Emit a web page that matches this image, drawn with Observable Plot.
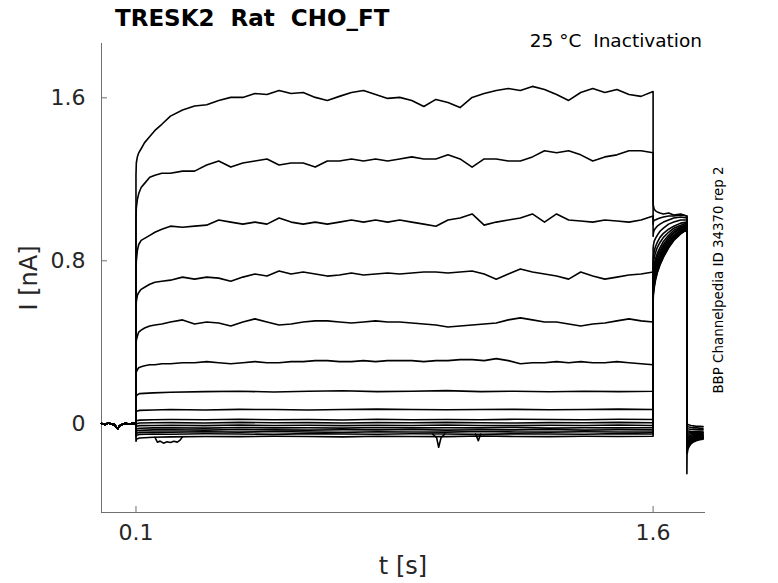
<!DOCTYPE html>
<html>
<head>
<meta charset="utf-8">
<script src="https://cdn.jsdelivr.net/npm/d3@7"></script>
<script src="https://cdn.jsdelivr.net/npm/@observablehq/plot@0.6"></script>
<style>
  html, body { margin: 0; padding: 0; background: #fff; }
  #chart { width: 778px; height: 583px; }
</style>
</head>
<body>
<div id="chart"></div>
<script>
// ---- Time grids (s) ----
const tPre = [0, 0.01, 0.02, 0.03, 0.038, 0.043, 0.047, 0.052, 0.06, 0.07, 0.08, 0.09, 0.1];
const tFine = [0.1, 0.101, 0.104, 0.108, 0.115, 0.125, 0.14, 0.155, 0.175,
  0.2, 0.235, 0.27, 0.305, 0.34, 0.375, 0.41, 0.445, 0.48, 0.515, 0.55, 0.585, 0.62, 0.655, 0.69,
  0.725, 0.76, 0.795, 0.83, 0.865, 0.9, 0.935, 0.97, 1.005, 1.04, 1.075, 1.11, 1.145, 1.18, 1.215,
  1.25, 1.285, 1.32, 1.355, 1.39, 1.425, 1.46, 1.495, 1.53, 1.565, 1.6];
const tCoarse = [0.1, 0.102, 0.11, 0.15, 0.2, 0.3, 0.4, 0.5, 0.6, 0.7, 0.8, 0.9, 1.0, 1.1, 1.2, 1.3, 1.4, 1.5, 1.6];
const tTail = [1.6, 1.6008, 1.603, 1.607, 1.612, 1.62, 1.63, 1.645, 1.66, 1.68, 1.698];
const tPost = [1.698, 1.6985, 1.701, 1.705, 1.71, 1.717, 1.725, 1.735, 1.745];

// ---- Baseline before the step (nA) ----
const basePre = [0.002, -0.003, 0.004, -0.002, -0.004, -0.018, -0.024, -0.01, -0.003, 0.003, -0.002, 0.002, 0.0];

// ---- Step currents (nA), large traces on the fine grid ----
const pulse1 = [1.22, 1.28, 1.31, 1.33, 1.35, 1.38, 1.41, 1.44, 1.47,
  1.51, 1.54, 1.56, 1.566, 1.587, 1.602, 1.602, 1.621, 1.616, 1.636, 1.621, 1.626, 1.602, 1.587, 1.607,
  1.626, 1.636, 1.616, 1.597, 1.602, 1.587, 1.557, 1.592, 1.577, 1.552, 1.602, 1.621, 1.636, 1.646, 1.636,
  1.656, 1.641, 1.616, 1.587, 1.626, 1.646, 1.626, 1.641, 1.616, 1.607, 1.631];
const pulse2 = [1.00, 1.06, 1.10, 1.13, 1.16, 1.18, 1.21, 1.22, 1.23,
  1.23, 1.24, 1.24, 1.27, 1.29, 1.26, 1.28, 1.29, 1.30, 1.27, 1.28, 1.28, 1.26, 1.29, 1.29,
  1.30, 1.29, 1.30, 1.29, 1.30, 1.31, 1.30, 1.30, 1.32, 1.30, 1.26, 1.30, 1.30, 1.29, 1.29,
  1.31, 1.34, 1.33, 1.34, 1.32, 1.29, 1.31, 1.32, 1.34, 1.34, 1.33];
const pulse3 = [0.74, 0.80, 0.85, 0.88, 0.90, 0.91, 0.925, 0.94, 0.955,
  0.97, 0.965, 0.97, 0.975, 1.00, 0.99, 0.98, 0.99, 0.98, 1.01, 0.99, 0.98, 0.99, 0.98, 0.99,
  1.00, 0.99, 1.00, 0.99, 1.00, 0.99, 0.98, 0.97, 1.00, 1.01, 1.03, 0.975, 0.99, 1.00, 1.01,
  1.03, 0.99, 1.03, 1.00, 0.995, 0.99, 1.00, 0.995, 0.99, 1.00, 1.02];
const pulse4 = [0.56, 0.60, 0.63, 0.645, 0.66, 0.67, 0.685, 0.695, 0.70,
  0.705, 0.72, 0.71, 0.72, 0.715, 0.70, 0.72, 0.735, 0.725, 0.75, 0.735, 0.745, 0.735, 0.725, 0.73,
  0.74, 0.73, 0.735, 0.74, 0.735, 0.74, 0.745, 0.745, 0.74, 0.745, 0.75, 0.735, 0.71, 0.735, 0.76,
  0.745, 0.735, 0.725, 0.71, 0.745, 0.725, 0.71, 0.72, 0.73, 0.735, 0.745];
const pulse5 = [0.37, 0.41, 0.43, 0.45, 0.46, 0.47, 0.48, 0.485, 0.49,
  0.50, 0.51, 0.49, 0.50, 0.495, 0.48, 0.50, 0.515, 0.50, 0.485, 0.49, 0.50, 0.505, 0.505, 0.50,
  0.495, 0.50, 0.505, 0.50, 0.50, 0.495, 0.49, 0.485, 0.475, 0.48, 0.485, 0.49, 0.495, 0.51, 0.52,
  0.51, 0.50, 0.50, 0.49, 0.48, 0.49, 0.495, 0.505, 0.515, 0.505, 0.50];
const pulse6 = [0.23, 0.255, 0.265, 0.275, 0.28, 0.285, 0.29, 0.29, 0.295,
  0.295, 0.30, 0.30, 0.305, 0.30, 0.295, 0.30, 0.305, 0.30, 0.30, 0.305, 0.305, 0.31, 0.31, 0.305,
  0.305, 0.31, 0.305, 0.31, 0.31, 0.31, 0.305, 0.31, 0.31, 0.315, 0.315, 0.31, 0.32, 0.31, 0.295,
  0.30, 0.30, 0.305, 0.30, 0.305, 0.30, 0.30, 0.305, 0.30, 0.295, 0.29];

// ---- Step currents (nA), small traces on the coarse grid ----
const pulse7 = [0.13, 0.14, 0.148, 0.152, 0.155, 0.158, 0.16, 0.156, 0.16, 0.162, 0.158, 0.16, 0.163, 0.158, 0.16, 0.157, 0.16, 0.158, 0.16];
const pulse8 = [0.055, 0.062, 0.066, 0.068, 0.07, 0.068, 0.071, 0.07, 0.068, 0.07, 0.072, 0.07, 0.069, 0.07, 0.071, 0.069, 0.07, 0.072, 0.07];
const pulse9 = [0.01, 0.015, 0.018, 0.02, 0.021, 0.02, 0.022, 0.02, 0.021, 0.019, 0.022, 0.02, 0.021, 0.02, 0.022, 0.021, 0.02, 0.022, 0.021];
const pulse10 = [-0.01, 0.0, 0.004, 0.005, 0.006, 0.004, 0.007, 0.005, 0.006, 0.004, 0.006, 0.005, 0.007, 0.005, 0.004, 0.006, 0.005, 0.007, 0.005];
const pulse11 = [-0.02, -0.012, -0.009, -0.008, -0.007, -0.009, -0.006, -0.008, -0.007, -0.009, -0.007, -0.008, -0.006, -0.008, -0.009, -0.007, -0.008, -0.006, -0.008];
const pulse12 = [-0.035, -0.025, -0.022, -0.02, -0.019, -0.021, -0.018, -0.02, -0.019, -0.021, -0.018, -0.02, -0.019, -0.02, -0.018, -0.021, -0.019, -0.02, -0.019];
const pulse13 = [-0.045, -0.035, -0.032, -0.03, -0.029, -0.031, -0.028, -0.03, -0.031, -0.029, -0.03, -0.028, -0.031, -0.029, -0.03, -0.028, -0.031, -0.029, -0.03];
const pulse14 = [-0.055, -0.046, -0.042, -0.04, -0.041, -0.039, -0.041, -0.038, -0.04, -0.042, -0.039, -0.04, -0.041, -0.038, -0.04, -0.041, -0.039, -0.04, -0.041];
const pulse15 = [-0.065, -0.056, -0.052, -0.05, -0.051, -0.049, -0.05, -0.052, -0.048, -0.05, -0.051, -0.049, -0.05, -0.052, -0.049, -0.05, -0.051, -0.048, -0.05];
const pulse16 = [-0.085, -0.075, -0.07, -0.066, -0.064, -0.062, -0.063, -0.061, -0.062, -0.064, -0.061, -0.062, -0.063, -0.06, -0.062, -0.063, -0.061, -0.062, -0.061];

// ---- Short excursions seen on the small traces ----
const blipAt = [0.155, 0.162, 0.17, 0.18, 0.19, 0.2, 0.21, 0.22, 0.228, 0.235];
const blipAI = [-0.066, -0.09, -0.085, -0.095, -0.088, -0.092, -0.086, -0.09, -0.08, -0.064];
const blipBt = [0.96, 0.972, 0.978, 0.985, 0.996];
const blipBI = [-0.05, -0.068, -0.115, -0.068, -0.05];
const blipCt = [1.085, 1.093, 1.1];
const blipCI = [-0.05, -0.083, -0.05];

// ---- Tail currents 1.6–1.7 s (nA) ----
const tail = [
  [1.08, 1.07, 1.055, 1.045, 1.04, 1.035, 1.03, 1.035, 1.025, 1.03, 1.02],
  [0.98, 0.99, 1.0, 1.0, 1.005, 1.01, 1.015, 1.02, 1.02, 1.025, 1.02],
  [0.92, 0.935, 0.95, 0.96, 0.97, 0.98, 0.99, 1.0, 1.01, 1.015, 1.01],
  [0.86, 0.875, 0.895, 0.91, 0.925, 0.945, 0.96, 0.98, 0.99, 1.0, 1.0],
  [0.80, 0.82, 0.845, 0.87, 0.89, 0.915, 0.935, 0.955, 0.97, 0.985, 0.99],
  [0.76, 0.785, 0.815, 0.84, 0.865, 0.89, 0.915, 0.94, 0.96, 0.975, 0.985],
  [0.72, 0.75, 0.78, 0.81, 0.835, 0.865, 0.895, 0.925, 0.95, 0.967, 0.98],
  [0.70, 0.73, 0.76, 0.79, 0.82, 0.85, 0.88, 0.915, 0.94, 0.962, 0.975],
  [0.68, 0.71, 0.74, 0.775, 0.805, 0.835, 0.87, 0.905, 0.935, 0.958, 0.97],
  [0.67, 0.695, 0.725, 0.76, 0.79, 0.825, 0.86, 0.895, 0.925, 0.952, 0.965],
  [0.66, 0.685, 0.715, 0.75, 0.78, 0.815, 0.85, 0.89, 0.92, 0.948, 0.962],
  [0.65, 0.675, 0.705, 0.74, 0.77, 0.805, 0.84, 0.882, 0.914, 0.943, 0.96],
  [0.64, 0.665, 0.695, 0.73, 0.76, 0.797, 0.833, 0.877, 0.91, 0.94, 0.957],
  [0.63, 0.655, 0.685, 0.72, 0.752, 0.79, 0.826, 0.872, 0.906, 0.937, 0.955],
  [0.62, 0.645, 0.675, 0.712, 0.745, 0.783, 0.82, 0.866, 0.902, 0.934, 0.952],
  [0.60, 0.63, 0.665, 0.705, 0.74, 0.78, 0.818, 0.864, 0.9, 0.932, 0.955]
];

// ---- After the tail, 1.7–1.75 s (nA) ----
const post = [
  [0.005, 0.0, -0.003, -0.006, -0.008, -0.01, -0.012, -0.012, -0.013],
  [-0.01, -0.012, -0.014, -0.016, -0.018, -0.02, -0.02, -0.021, -0.022],
  [-0.02, -0.022, -0.024, -0.026, -0.027, -0.028, -0.029, -0.03, -0.03],
  [-0.03, -0.033, -0.035, -0.036, -0.037, -0.038, -0.038, -0.039, -0.04],
  [-0.04, -0.045, -0.045, -0.044, -0.044, -0.043, -0.043, -0.043, -0.042],
  [-0.05, -0.055, -0.053, -0.05, -0.049, -0.048, -0.047, -0.047, -0.046],
  [-0.06, -0.064, -0.062, -0.058, -0.055, -0.053, -0.052, -0.051, -0.05],
  [-0.07, -0.073, -0.07, -0.065, -0.061, -0.058, -0.056, -0.055, -0.054],
  [-0.08, -0.083, -0.078, -0.072, -0.067, -0.063, -0.06, -0.058, -0.057],
  [-0.09, -0.092, -0.086, -0.078, -0.072, -0.067, -0.064, -0.062, -0.06],
  [-0.1, -0.1, -0.093, -0.084, -0.077, -0.071, -0.068, -0.065, -0.063],
  [-0.11, -0.108, -0.1, -0.09, -0.082, -0.075, -0.071, -0.068, -0.066],
  [-0.12, -0.116, -0.106, -0.095, -0.086, -0.079, -0.074, -0.07, -0.068],
  [-0.13, -0.124, -0.112, -0.1, -0.09, -0.082, -0.077, -0.073, -0.07],
  [-0.14, -0.132, -0.118, -0.105, -0.094, -0.086, -0.08, -0.076, -0.072],
  [-0.245, -0.15, -0.125, -0.11, -0.098, -0.089, -0.083, -0.078, -0.075]
];

// ---- Ticks and texts ----
const xTicks = [0.1, 1.6];
const yTicks = [0, 0.8, 1.6];
const titleText = "TRESK2  Rat  CHO_FT";
const subtitleText = "25 °C  Inactivation";
const sideText = "BBP Channelpedia ID 34370 rep 2";
const xLabel = "t [s]";
const yLabel = "I [nA]";

// ---- Build rows ----
const fineTraces = [pulse1, pulse2, pulse3, pulse4, pulse5, pulse6];
const coarseTraces = [pulse7, pulse8, pulse9, pulse10, pulse11, pulse12, pulse13, pulse14, pulse15, pulse16];
const pulses = [...fineTraces.map(v => ({t: tFine, v})), ...coarseTraces.map(v => ({t: tCoarse, v}))];

const rows = [];
pulses.forEach((p, i) => {
  tPre.forEach((t, j) => rows.push({trace: i, t, I: basePre[j]}));
  p.t.forEach((t, j) => rows.push({trace: i, t, I: p.v[j]}));
  tTail.forEach((t, j) => rows.push({trace: i, t, I: tail[i][j]}));
  tPost.forEach((t, j) => rows.push({trace: i, t, I: post[i][j]}));
});
[[blipAt, blipAI], [blipBt, blipBI], [blipCt, blipCI]].forEach(([ts, vs], k) => {
  ts.forEach((t, j) => rows.push({trace: 100 + k, t, I: vs[j]}));
});

const fmt = d => d === 0 ? "0" : d.toFixed(1);

const chart = Plot.plot({
  width: 778,
  height: 583,
  marginLeft: 101,
  marginRight: 73,
  marginTop: 43,
  marginBottom: 71,
  style: {fontFamily: "DejaVu Sans", background: "white"},
  x: {domain: [0, 1.752]},
  y: {domain: [-0.4353, 1.8665]},
  marks: [
    Plot.ruleX([0], {stroke: "#707070", strokeWidth: 1}),
    Plot.ruleY([-0.4353], {stroke: "#707070", strokeWidth: 1}),
    Plot.axisY(yTicks, {tickSize: -6, tickPadding: 22, fontSize: 22, tickFormat: fmt,
      stroke: "#707070", fill: "#262626", label: null}),
    Plot.axisX(xTicks, {tickSize: -6, tickPadding: 18, fontSize: 22, tickFormat: fmt,
      stroke: "#707070", fill: "#262626", label: null}),
    Plot.line(rows, {x: "t", y: "I", z: "trace", stroke: "black", strokeWidth: 1.6, curve: "linear"})
  ]
});

document.getElementById("chart").appendChild(chart);

const svg = d3.select(chart);
svg.append("text")
  .attr("x", 115).attr("y", 26).attr("text-anchor", "start")
  .attr("font-family", "DejaVu Sans").attr("font-weight", "bold").attr("font-size", 23)
  .attr("fill", "black").text(titleText);
svg.append("text")
  .attr("x", 702).attr("y", 47).attr("text-anchor", "end")
  .attr("font-family", "DejaVu Sans").attr("font-size", 18.5)
  .attr("fill", "black").text(subtitleText);
svg.append("text")
  .attr("transform", "translate(723,280) rotate(-90)").attr("text-anchor", "middle")
  .attr("font-family", "DejaVu Sans").attr("font-size", 13.4)
  .attr("fill", "black").text(sideText);
svg.append("text")
  .attr("x", 403).attr("y", 574).attr("text-anchor", "middle")
  .attr("font-family", "DejaVu Sans").attr("font-size", 24)
  .attr("fill", "#262626").text(xLabel);
svg.append("text")
  .attr("transform", "translate(37,278) rotate(-90)").attr("text-anchor", "middle")
  .attr("font-family", "DejaVu Sans").attr("font-size", 24)
  .attr("fill", "#262626").text(yLabel);
</script>
</body>
</html>
